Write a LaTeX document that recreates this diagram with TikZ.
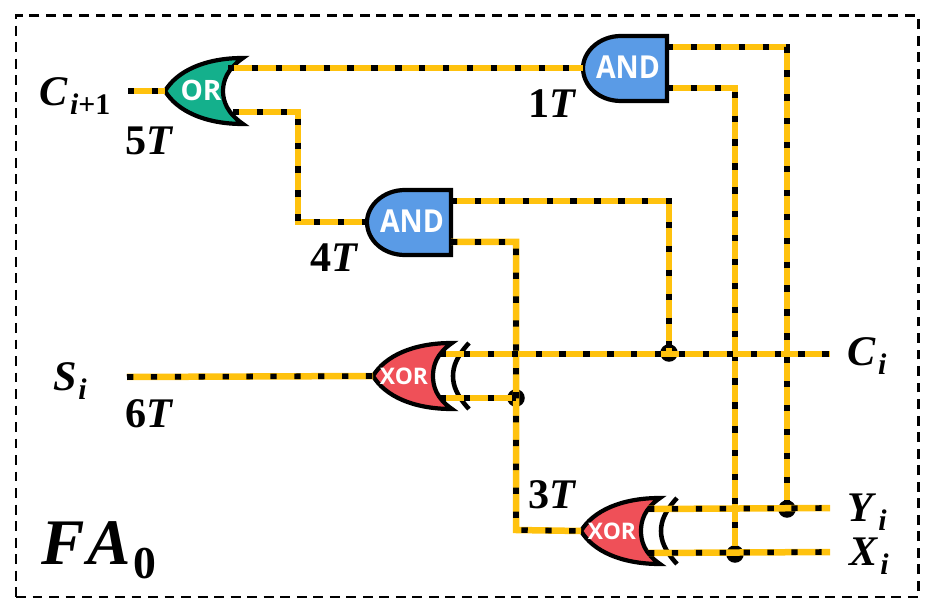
\documentclass[tikz,border=0pt]{standalone}
\usepackage{fontspec}
\setmainfont{Liberation Serif}
\setsansfont{Open Sans}
\usetikzlibrary{positioning}

\definecolor{wireyellow}{HTML}{FFC20E}
\definecolor{orgreen}{HTML}{14B08C}
\definecolor{andblue}{HTML}{5A9BE6}
\definecolor{xorred}{HTML}{EF5058}

\newcommand{\lowidx}[2][17]{\raisebox{-.22em}{\fontsize{#1}{#1}\selectfont\kern.06em #2}}

\tikzset{
	wire/.style={draw=wireyellow, line width=3.7pt, line join=miter,
		postaction={draw=black, line width=3.2pt, dash pattern=on 3.6pt off 10pt}},
	dot/.style={circle, fill=black, inner sep=0pt, minimum size=10pt},
	gatebody/.style={draw=black, line width=2.4pt, line join=miter},
	gatetext/.style={text=white, font=\sffamily\fontsize{#1}{#1}\selectfont, inner sep=0pt},
	lbl/.style={font=\fontsize{24}{24}\selectfont\bfseries, inner sep=0pt},
	pics/andgate/.style={code={
		\draw[gatebody, fill=andblue] (84,-32) -- (38,-32) .. controls (16,-32) and (0,-16) .. (0,0)
			.. controls (0,18) and (16,33) .. (38,33) -- (84,33) -- cycle;
		\node[gatetext=18, xscale=.9] (-txt) at (45,-1) {\bfseries AND};
		\coordinate (-in) at (0,0);
		\coordinate (-a) at (84,-21);
		\coordinate (-b) at (84,20);
	}},
	pics/orgate/.style={code={
		\draw[gatebody, fill=orgreen] (0,0) .. controls (12,-20) and (40,-33) .. (78,-33)
			.. controls (62,-22) and (58,-10) .. (58,0) .. controls (58,10) and (62,22) .. (78,33)
			.. controls (40,33) and (12,20) .. (0,0) -- cycle;
		\node[gatetext=16] (-txt) at (36,-1) {\bfseries OR};
		\coordinate (-in) at (0,0);
		\coordinate (-a) at (63,-23);
		\coordinate (-b) at (68,21);
	}},
	pics/xorgate/.style={code={
		\draw[gatebody, fill=xorred] (0,0) .. controls (12,-20) and (40,-33) .. (79,-33)
			.. controls (63,-22) and (60,-10) .. (60,0) .. controls (60,10) and (63,22) .. (79,33)
			.. controls (40,33) and (12,20) .. (0,0) -- cycle;
		\draw[black, line width=2.6pt] (96,-33) .. controls (84,-20) and (80,-10) .. (80,0)
			.. controls (80,10) and (84,20) .. (96,33);
		\node[gatetext=13] (-txt) at (31,0) {\bfseries XOR};
		\coordinate (-in) at (0,0);
		\coordinate (-a) at (67,-22);
		\coordinate (-b) at (67,22);
	}},
}

\begin{document}
\begin{tikzpicture}[x=0.02cm, y=-0.02cm]
			\useasboundingbox (0,0) rectangle (942,607);
			\node[draw, line width=1.7pt, dash pattern=on 5.6pt off 3.8pt, minimum width=902*0.02cm, minimum height=581*0.02cm, inner sep=0pt] (frame) at (467,306.5) {};

			% Gates
			\pic (or1) at (165,91) {orgate};
			\pic (and1) at (583,68) {andgate};
			\pic (and2) at (367,222) {andgate};
			\pic (xor1) at (373,376) {xorgate};
			\pic (xor2) at (581,531) {xorgate};

			% Joints and free ends
			\node[dot] (ci-dot) at (669,353) {};
			\node[dot] (s-dot) at (516,398) {};
			\node[dot] (y-dot) at (787,509) {};
			\node[dot] (x-dot) at (735,554) {};
			\coordinate (c-out) at (128,91);
			\coordinate (s-out) at (127,377);
			\coordinate (ci-in) at (830,354);
			\coordinate (yi-in) at (830,508);
			\coordinate (xi-in) at (830,552);
			\coordinate (bend-a) at (298,222);
			\coordinate (bend-b) at (516,530);

			% Wires
			\draw[wire] (c-out) -- (or1-in);
			\draw[wire] (or1-a) -- (and1-in);
			\draw[wire] (or1-b) -| (bend-a) -- (and2-in);
			\draw[wire] (and1-a) -| (y-dot.center);
			\draw[wire] (and1-b) -| (x-dot.center);
			\draw[wire] (and2-a) -| (ci-dot.center);
			\draw[wire] (and2-b) -| (bend-b) -- (xor2-in);
			\draw[wire] (s-out) -- (xor1-in);
			\draw[wire] (xor1-a) -- (ci-in);
			\draw[wire] (xor1-b) -- (s-dot.center);
			\draw[wire] (xor2-a) -- (yi-in);
			\draw[wire] (xor2-b) -- (xi-in);

			% Labels
			\node[lbl] (c-next) at (75,96) {\textit{C}\lowidx{\textit{i}+1}};
			\node[lbl] (t5) at (150,141) {5\textit{T}};
			\node[lbl] (t1) at (553,104) {1\textit{T}};
			\node[lbl] (t4) at (335,258) {4\textit{T}};
			\node[lbl] (t3) at (553,495) {3\textit{T}};
			\node[lbl] (t6) at (150,414) {6\textit{T}};
			\node[lbl] (s-i) at (70,381) {\textit{S}\lowidx{\textit{i}}};
			\node[lbl] (c-i) at (867,356) {\textit{C}\lowidx{\textit{i}}};
			\node[lbl] (y-i) at (867,512) {\textit{Y}\lowidx{\textit{i}}};
			\node[lbl] (x-i) at (869,556) {\textit{X}\lowidx{\textit{i}}};
			\node[lbl, font=\fontsize{37}{37}\selectfont\bfseries] (fa) at (99,550) {\textit{F\kern.04em A}\lowidx[26]{0}};
		\end{tikzpicture}
\end{document}
